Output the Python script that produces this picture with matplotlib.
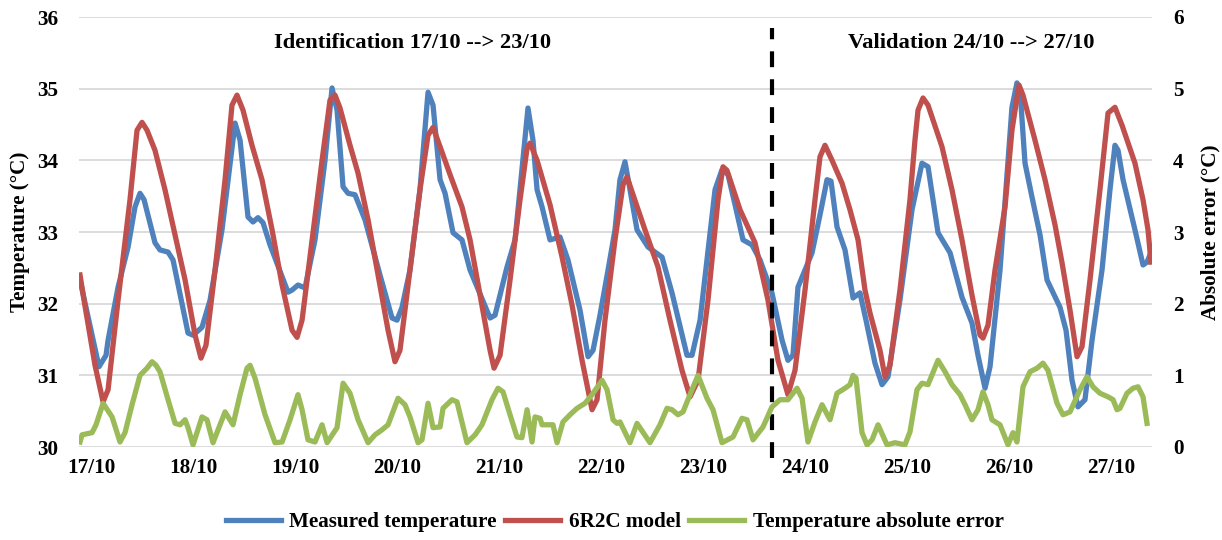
import matplotlib
matplotlib.use("Agg")
import matplotlib.pyplot as plt
from matplotlib.lines import Line2D

# ---------------- data (x in days, 17.0 = 17/10 00:00) ----------------
meas_x = [16.892, 17.078, 17.147, 17.167, 17.265, 17.363, 17.431, 17.480, 17.520, 17.627, 17.676, 17.755, 17.804,
          17.951, 18.000, 18.088, 18.167, 18.284, 18.412, 18.461, 18.539, 18.588, 18.637, 18.686, 18.755, 18.931,
          18.971, 19.029, 19.098, 19.196, 19.294, 19.363, 19.412, 19.471, 19.520, 19.588, 19.686, 19.833, 19.951,
          20.000, 20.049, 20.127, 20.225, 20.304, 20.353, 20.422, 20.471, 20.549, 20.637, 20.716, 20.912, 20.961,
          21.078, 21.157, 21.225, 21.284, 21.333, 21.373, 21.422, 21.500, 21.598, 21.676, 21.794, 21.873, 21.922,
          21.990, 22.069, 22.137, 22.186, 22.235, 22.284, 22.353, 22.461, 22.598, 22.696, 22.843, 22.892, 22.971,
          23.118, 23.186, 23.245, 23.314, 23.392, 23.480, 23.559, 23.676, 23.775, 23.833, 23.882, 23.931, 24.069,
          24.147, 24.216, 24.255, 24.314, 24.392, 24.471, 24.539, 24.598, 24.686, 24.755, 24.814, 24.931, 25.049,
          25.147, 25.206, 25.304, 25.422, 25.539, 25.637, 25.696, 25.765, 25.814, 25.912, 26.029, 26.078, 26.108,
          26.157, 26.225, 26.304, 26.373, 26.500, 26.559, 26.618, 26.676, 26.745, 26.814, 26.912, 26.990, 27.039,
          27.069, 27.118, 27.235, 27.314, 27.353, 27.382]
meas_y = [32.33, 31.12, 31.28, 31.49, 32.23, 32.79, 33.35, 33.54, 33.45, 32.85, 32.75, 32.72, 32.61,
          31.59, 31.56, 31.67, 32.05, 33.03, 34.52, 34.28, 33.21, 33.14, 33.20, 33.13, 32.82, 32.16,
          32.19, 32.26, 32.22, 32.89, 34.00, 35.01, 34.70, 33.63, 33.54, 33.52, 33.17, 32.40, 31.80,
          31.77, 31.95, 32.47, 33.59, 34.95, 34.77, 33.73, 33.54, 32.99, 32.89, 32.47, 31.80, 31.84,
          32.51, 32.89, 33.87, 34.73, 34.28, 33.59, 33.35, 32.89, 32.93, 32.61, 31.91, 31.26, 31.35,
          31.84, 32.47, 33.03, 33.73, 33.98, 33.59, 33.03, 32.79, 32.65, 32.15, 31.28, 31.28, 31.77,
          33.59, 33.87, 33.80, 33.38, 32.89, 32.82, 32.61, 32.15, 31.49, 31.21, 31.28, 32.23, 32.71,
          33.24, 33.73, 33.71, 33.07, 32.75, 32.08, 32.15, 31.77, 31.17, 30.87, 30.98, 32.05, 33.31,
          33.96, 33.91, 32.99, 32.71, 32.09, 31.73, 31.28, 30.82, 31.12, 32.47, 34.74, 35.08, 34.98,
          33.96, 33.49, 32.96, 32.33, 31.95, 31.63, 30.93, 30.56, 30.66, 31.49, 32.47, 33.59, 34.21,
          34.14, 33.73, 33.03, 32.54, 32.58, 32.68]

model_x = [16.892, 16.931, 17.039, 17.118, 17.167, 17.265, 17.382, 17.451, 17.500, 17.549, 17.627, 17.725, 17.824,
           17.922, 18.020, 18.078, 18.127, 18.216, 18.314, 18.382, 18.431, 18.490, 18.578, 18.676, 18.775, 18.873,
           18.971, 19.020, 19.069, 19.167, 19.265, 19.343, 19.392, 19.441, 19.539, 19.618, 19.716, 19.814, 19.912,
           19.980, 20.029, 20.127, 20.225, 20.304, 20.353, 20.422, 20.520, 20.637, 20.716, 20.814, 20.912, 20.951,
           21.010, 21.108, 21.206, 21.275, 21.304, 21.373, 21.500, 21.618, 21.716, 21.814, 21.912, 21.961, 22.039,
           22.137, 22.216, 22.255, 22.314, 22.431, 22.559, 22.676, 22.794, 22.873, 22.951, 23.049, 23.147, 23.196,
           23.235, 23.363, 23.510, 23.637, 23.735, 23.833, 23.902, 24.000, 24.098, 24.147, 24.196, 24.265, 24.363,
           24.441, 24.520, 24.588, 24.637, 24.735, 24.784, 24.833, 24.931, 25.029, 25.078, 25.108, 25.157, 25.206,
           25.343, 25.441, 25.539, 25.637, 25.716, 25.745, 25.794, 25.863, 25.961, 26.029, 26.098, 26.137, 26.255,
           26.353, 26.451, 26.520, 26.598, 26.667, 26.716, 26.794, 26.892, 26.971, 27.039, 27.108, 27.235, 27.314,
           27.363, 27.392]
model_y = [32.40, 32.05, 31.14, 30.63, 30.80, 32.05, 33.45, 34.42, 34.53, 34.42, 34.14, 33.59, 32.96,
           32.33, 31.56, 31.24, 31.42, 32.47, 33.73, 34.77, 34.91, 34.70, 34.21, 33.73, 33.03, 32.26,
           31.63, 31.53, 31.77, 32.89, 34.00, 34.84, 34.91, 34.73, 34.21, 33.82, 33.17, 32.40, 31.63,
           31.19, 31.35, 32.47, 33.59, 34.35, 34.46, 34.19, 33.80, 33.35, 32.89, 32.12, 31.35, 31.10,
           31.28, 32.33, 33.45, 34.17, 34.24, 34.00, 33.38, 32.65, 31.98, 31.21, 30.52, 30.66, 31.77,
           32.89, 33.66, 33.77, 33.52, 33.03, 32.51, 31.77, 31.07, 30.70, 30.93, 32.05, 33.45, 33.91,
           33.86, 33.31, 32.85, 32.05, 31.21, 30.73, 31.07, 32.19, 33.45, 34.05, 34.21, 34.00, 33.68,
           33.31, 32.89, 32.19, 31.87, 31.35, 30.98, 31.14, 32.19, 33.45, 34.28, 34.70, 34.87, 34.77,
           34.19, 33.59, 32.89, 32.12, 31.56, 31.52, 31.70, 32.47, 33.35, 34.42, 35.05, 34.91, 34.28,
           33.73, 33.10, 32.57, 31.91, 31.26, 31.40, 32.33, 33.59, 34.66, 34.74, 34.49, 33.96, 33.45,
           33.03, 32.58]

err_x = [16.892, 16.912, 17.010, 17.049, 17.118, 17.206, 17.284, 17.333, 17.402, 17.480, 17.549, 17.598, 17.637,
         17.676, 17.755, 17.824, 17.873, 17.922, 17.951, 18.000, 18.088, 18.137, 18.196, 18.314, 18.392, 18.461,
         18.529, 18.559, 18.608, 18.706, 18.804, 18.873, 18.951, 19.029, 19.069, 19.127, 19.196, 19.265, 19.314,
         19.412, 19.471, 19.539, 19.618, 19.716, 19.784, 19.853, 19.912, 20.010, 20.078, 20.127, 20.206, 20.245,
         20.304, 20.353, 20.422, 20.451, 20.539, 20.588, 20.686, 20.765, 20.833, 20.931, 20.990, 21.039, 21.108,
         21.176, 21.225, 21.275, 21.324, 21.353, 21.402, 21.422, 21.529, 21.569, 21.627, 21.696, 21.765, 21.843,
         21.912, 22.010, 22.059, 22.118, 22.157, 22.186, 22.284, 22.353, 22.480, 22.578, 22.647, 22.696, 22.755,
         22.804, 22.892, 22.951, 23.000, 23.039, 23.098, 23.186, 23.294, 23.382, 23.431, 23.490, 23.588, 23.676,
         23.755, 23.833, 23.922, 23.971, 24.029, 24.098, 24.167, 24.245, 24.314, 24.392, 24.441, 24.471, 24.500,
         24.559, 24.608, 24.657, 24.716, 24.804, 24.882, 24.980, 25.029, 25.098, 25.147, 25.206, 25.304, 25.373,
         25.441, 25.520, 25.569, 25.637, 25.696, 25.745, 25.794, 25.833, 25.912, 25.990, 26.039, 26.078, 26.137,
         26.206, 26.275, 26.333, 26.382, 26.471, 26.529, 26.598, 26.696, 26.765, 26.824, 26.892, 26.971, 27.020,
         27.059, 27.088, 27.157, 27.216, 27.265, 27.314, 27.353]
err_y = [0.07, 0.17, 0.20, 0.31, 0.61, 0.42, 0.07, 0.20, 0.59, 1.00, 1.10, 1.19, 1.14,
         1.05, 0.66, 0.33, 0.31, 0.38, 0.27, 0.03, 0.42, 0.38, 0.06, 0.49, 0.31, 0.73,
         1.10, 1.14, 0.96, 0.45, 0.06, 0.07, 0.38, 0.73, 0.52, 0.10, 0.07, 0.31, 0.06,
         0.27, 0.89, 0.75, 0.38, 0.06, 0.17, 0.24, 0.31, 0.68, 0.59, 0.42, 0.06, 0.10,
         0.61, 0.27, 0.28, 0.54, 0.66, 0.63, 0.06, 0.17, 0.31, 0.66, 0.82, 0.77, 0.45,
         0.14, 0.13, 0.52, 0.07, 0.42, 0.40, 0.31, 0.31, 0.06, 0.35, 0.45, 0.54, 0.61,
         0.73, 0.93, 0.80, 0.38, 0.33, 0.35, 0.06, 0.33, 0.06, 0.31, 0.54, 0.52, 0.45,
         0.49, 0.80, 1.00, 0.82, 0.68, 0.52, 0.06, 0.14, 0.40, 0.38, 0.10, 0.28, 0.56,
         0.66, 0.66, 0.82, 0.68, 0.07, 0.35, 0.59, 0.38, 0.75, 0.82, 0.87, 1.00, 0.96,
         0.20, 0.03, 0.10, 0.31, 0.03, 0.06, 0.03, 0.21, 0.80, 0.89, 0.87, 1.21, 1.05,
         0.87, 0.73, 0.59, 0.38, 0.52, 0.77, 0.59, 0.38, 0.31, 0.03, 0.20, 0.07, 0.84,
         1.05, 1.10, 1.17, 1.07, 0.61, 0.45, 0.49, 0.80, 0.98, 0.84, 0.75, 0.70, 0.66,
         0.52, 0.54, 0.75, 0.82, 0.84, 0.70, 0.33]

tick_days = [17, 18, 19, 20, 21, 22, 23, 24, 25, 26, 27]
tick_labels = ["17/10", "18/10", "19/10", "20/10", "21/10", "22/10", "23/10",
               "24/10", "25/10", "26/10", "27/10"]
split_day = 23.68
series_names = ["Measured temperature", "6R2C model", "Temperature absolute error"]

# ---------------- style ----------------
BLUE, RED, GREEN = "#4F81BD", "#C0504D", "#9BBB59"
FONT = "Liberation Serif"
FS = 15.2
FS_NOTE = 16.2
LW = 3.8

fig = plt.figure(figsize=(12.22, 5.40), dpi=100)
ax = fig.add_axes([79 / 1222, 1 - 447 / 540, (1152 - 79) / 1222, (447 - 17) / 540])
ax2 = ax.twinx()

ax.set_xlim(16.882, 27.402)
ax.set_ylim(30, 36)
ax2.set_ylim(0, 6)

for a in (ax, ax2):
    for s in a.spines.values():
        s.set_visible(False)
    a.tick_params(length=0)

ax.set_yticks(range(30, 37))
ax2.set_yticks(range(0, 7))
ax.grid(axis="y", color="#D9D9D9", linewidth=1.3)
ax.set_axisbelow(True)

ax.plot(meas_x, meas_y, color=BLUE, lw=LW, solid_joinstyle="round", zorder=3)
ax.plot(model_x, model_y, color=RED, lw=LW, solid_joinstyle="round", zorder=4)
ax2.plot(err_x, err_y, color=GREEN, lw=LW, solid_joinstyle="round", zorder=5)

ax.plot([split_day, split_day], [29.85, 35.85], color="black", lw=3,
        dashes=(3.8, 2.9), clip_on=False, zorder=6)

ax.set_xticks(tick_days)
ax.set_xticklabels(tick_labels)
for lab in ax.get_xticklabels() + ax.get_yticklabels() + ax2.get_yticklabels():
    lab.set_fontfamily(FONT)
    lab.set_fontweight("bold")
    lab.set_fontsize(FS)
ax.tick_params(axis="x", pad=8)
ax.tick_params(axis="y", pad=15)
ax2.tick_params(axis="y", pad=15)

ax.set_ylabel("Temperature (°C)", fontfamily=FONT, fontweight="bold", fontsize=FS, labelpad=5)
ax2.set_ylabel("Absolute error (°C)", fontfamily=FONT, fontweight="bold", fontsize=FS, labelpad=12)

ax.text(20.155, 35.64, "Identification 17/10 --> 23/10", ha="center", va="center",
        fontfamily=FONT, fontweight="bold", fontsize=FS_NOTE)
ax.text(25.63, 35.64, "Validation 24/10 --> 27/10", ha="center", va="center",
        fontfamily=FONT, fontweight="bold", fontsize=FS_NOTE)

handles = [Line2D([], [], color=c, lw=LW) for c in (BLUE, RED, GREEN)]
leg = fig.legend(handles, series_names, loc="center", bbox_to_anchor=(0.503, 0.033),
                 ncol=3, frameon=False, handlelength=2.6, handletextpad=0.42, columnspacing=0.38,
                 prop={"family": FONT, "weight": "bold", "size": FS})

fig.savefig("out.png", dpi=100)
